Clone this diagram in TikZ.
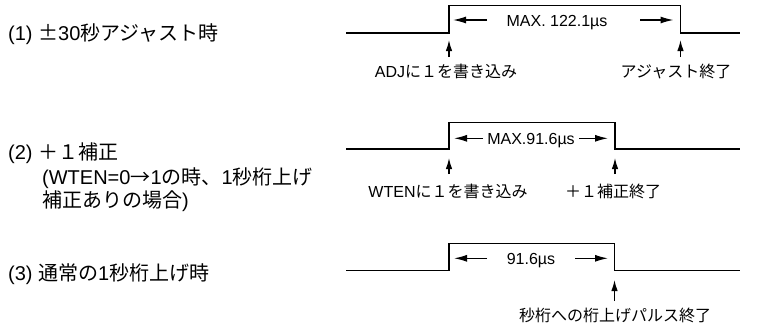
\documentclass[tikz,border=0pt]{standalone}
\usepackage{fontspec}
\setmainfont{Liberation Sans}
\newfontfamily\jp{Noto Sans CJK JP}
\usetikzlibrary{arrows.meta}
\begin{document}
\begin{tikzpicture}[x=1pt,y=-1pt,
  wave/.style={line width=1.5pt},
  harr/.style={line width=1.3pt,-{Latex[length=13pt,width=7pt]}},
  uarr/.style={line width=1.3pt,-{Latex[length=11pt,width=6.5pt]}},
  lab/.style={font=\fontsize{16}{19}\selectfont, inner sep=0pt, anchor=base},
  ttl/.style={font=\fontsize{20}{24}\selectfont, inner sep=0pt, anchor=base west}]
\useasboundingbox (0,0) rectangle (778,325);
% titles
\node[ttl] (t1) at (8,40.5) {(1) {\jp ±}30{\jp 秒アジャスト時}};
\node[ttl] (t2) at (8,159.5) {(2) {\jp ＋１補正}};
\node[ttl] (t2b) at (42,184.5) {(WTEN=0{\jp →}1{\jp の時、}1{\jp 秒桁上げ}};
\node[ttl] (t2c) at (42,207.5) {{\jp 補正ありの場合}) };
\node[ttl] (t3) at (8,280.5) {(3) {\jp 通常の}1{\jp 秒桁上げ時}};
% waveform 1
\coordinate (a1) at (346,33); \coordinate (b1) at (449,33);
\coordinate (c1) at (449,5.5); \coordinate (d1) at (680.5,5.5);
\coordinate (e1) at (680.5,33); \coordinate (f1) at (740,33);
\draw[wave] (a1) -- (b1) -- (c1) -- (d1) -- (e1) -- (f1);
\node[lab] (m1) at (557,26) {MAX. 122.1µs};
\coordinate (h1ls) at (487,20); \coordinate (h1lt) at (453,20);
\coordinate (h1rs) at (640,20); \coordinate (h1rt) at (673.5,20);
\draw[harr] (h1ls) -- (h1lt);
\draw[harr] (h1rs) -- (h1rt);
\coordinate (u1as) at (449,57); \coordinate (u1at) at (449,40);
\coordinate (u1bs) at (680.5,57); \coordinate (u1bt) at (680.5,40);
\draw[uarr] (u1as) -- (u1at);
\draw[uarr] (u1bs) -- (u1bt);
\node[lab] (l1a) at (446,77) {ADJ{\jp に１を書き込み}};
\node[lab] (l1b) at (676,77) {\jp アジャスト終了};
% waveform 2
\coordinate (a2) at (346,149); \coordinate (b2) at (449,149);
\coordinate (c2) at (449,122.3); \coordinate (d2) at (615,122.3);
\coordinate (e2) at (615,149); \coordinate (f2) at (740,149);
\draw[wave] (a2) -- (b2) -- (c2) -- (d2) -- (e2) -- (f2);
\node[lab] (m2) at (531,144) {MAX.91.6µs};
\coordinate (h2ls) at (483,138.3); \coordinate (h2lt) at (454,138.3);
\coordinate (h2rs) at (579,138.3); \coordinate (h2rt) at (608,138.3);
\draw[harr] (h2ls) -- (h2lt);
\draw[harr] (h2rs) -- (h2rt);
\coordinate (u2as) at (449,174); \coordinate (u2at) at (449,158);
\coordinate (u2bs) at (615,174); \coordinate (u2bt) at (615,158);
\draw[uarr] (u2as) -- (u2at);
\draw[uarr] (u2bs) -- (u2bt);
\node[lab] (l2a) at (448,197) {WTEN{\jp に１を書き込み}};
\node[lab] (l2b) at (613,197) {\jp ＋１補正終了};
% waveform 3
\coordinate (a3) at (346,270.5); \coordinate (b3) at (449,270.5);
\coordinate (c3) at (449,243.3); \coordinate (d3) at (614.5,243.3);
\coordinate (e3) at (614.5,270.5); \coordinate (f3) at (740,270.5);
\draw[wave] (a3) -- (b3) -- (c3) -- (d3) -- (e3) -- (f3);
\node[lab] (m3) at (531,264) {91.6µs};
\coordinate (h3ls) at (487,258.3); \coordinate (h3lt) at (454,258.3);
\coordinate (h3rs) at (575,258.3); \coordinate (h3rt) at (608,258.3);
\draw[harr] (h3ls) -- (h3lt);
\draw[harr] (h3rs) -- (h3rt);
\coordinate (u3s) at (614.5,301); \coordinate (u3t) at (614.5,280);
\draw[uarr] (u3s) -- (u3t);
\node[lab] (l3) at (615,321) {\jp 秒桁への桁上げパルス終了};
\end{tikzpicture}
\end{document}
